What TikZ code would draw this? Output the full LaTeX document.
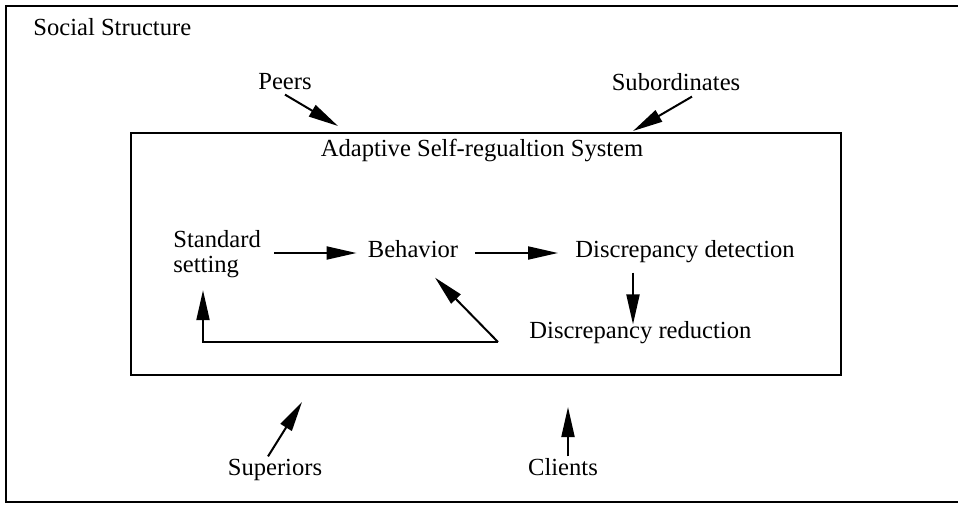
\documentclass[tikz,border=0pt]{standalone}
\usepackage{fontspec}
\setmainfont{Liberation Serif}
\usetikzlibrary{arrows.meta,calc}
\begin{document}
\begin{tikzpicture}[x=0.5pt,y=-0.5pt,
  lbl/.style={inner sep=0pt, font=\fontsize{12.3pt}{12.5pt}\selectfont, text height=0.7em, text depth=0.22em},
  mlbl/.style={inner sep=0pt, font=\fontsize{12.3pt}{12.5pt}\selectfont, align=left},
  arr/.style={line width=1pt, -{Triangle[length=15pt,width=6.5pt]}},
  frame/.style={line width=1pt},
  sysbox/.style={line width=1.3pt}]
\useasboundingbox (0,0) rectangle (958,504);
% outer frame (right side off the page)
\draw[frame] (970,6) -- (6,6) -- (6,502) -- (970,502);
% inner box
\draw[sysbox] (131,133) rectangle (841,375);
% labels
\node[lbl, anchor=west] (social) at (33,31) {Social Structure};
\node[lbl] (peers) at (285,85) {Peers};
\node[lbl] (sub) at (676,86) {Subordinates};
\node[lbl] (title) at (482,152) {Adaptive Self-regualtion System};
\node[mlbl, anchor=north west] (std) at (173,230) {Standard\\setting};
\node[lbl] (beh) at (413,253) {Behavior};
\node[lbl, anchor=west] (dd) at (575,253) {Discrepancy detection};
\node[lbl, anchor=west] (dr) at (529,334) {Discrepancy reduction};
\node[lbl] (sup) at (275,471) {Superiors};
\node[lbl] (cli) at (563,471) {Clients};
% coordinates
\coordinate (ptip) at (338,126);
\coordinate (stip) at (633,131);
\coordinate (suptip) at (302,402);
\coordinate (clitip) at (568,407);
\coordinate (ddout) at ($(dd.south west)+(58,10)$);
\coordinate (drin) at ($(dr.north west)+(104,0)$);
\coordinate (fb) at ($(dr.west)+(-31,8)$);
\coordinate (stdin) at ($(std.south west)+(30,12)$);
\coordinate (behin) at ($(beh.south)+(22,15)$);
% arrows
\draw[arr] (peers.south) -- (ptip);
\draw[arr] ($(sub.south)+(16,1)$) -- (stip);
\draw[arr] ($(sup.north)+(-7,-5)$) -- (suptip);
\draw[arr] ($(cli.north)+(5,-5)$) -- (clitip);
\draw[arr, shorten <=6.5pt, shorten >=5.5pt] (beh.west -| std.east) -- (beh.west);
\draw[arr, shorten <=8.5pt, shorten >=8.5pt] (beh.east) -- (beh.east -| dd.west);
\draw[arr] (ddout) -- (drin);
\draw[arr] (fb) -| (stdin);
\draw[arr] (fb) -- (behin);
\end{tikzpicture}
\end{document}
